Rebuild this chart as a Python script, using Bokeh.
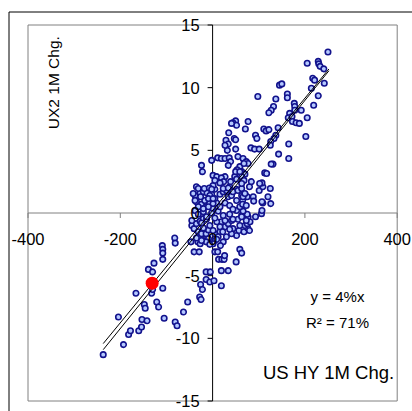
import numpy as np
from bokeh.plotting import figure
from bokeh.models import Range1d
from bokeh.core.properties import value
from bokeh.embed import file_html
from bokeh.resources import INLINE

# Monthly changes: US HY spread (bp) vs UX2 (vol points)
us_hy_1m_chg = [
    -237, -193, -182, -178, -160, -154, -204, -153, -142, -105, -81, -77, -63, -54, -28, -25,
    -148, -146, -121, -117, -166, -132, -130, -108, -139, -130, -127, -108, -109, -108, -108, -82, -81,
    -26, -22, -14, -5, -14, -6, 3, 19, 19, 34, 51, 13, 20, 25, 26, 5, 11, -40, -29, -47, -32, -27, -20,
    -13, 59, 63, 52, 57,
    68, 76, 70, 75, 81, 77, 93, 106, 107, 126, 109, 88, 89, 120, 125, 63, 72, 107, 63, 73, 80, 75, 66, 65,
    -45, -40, -35, -27, -20, -31, -24, -14, -9, -9, 5, 16, 5, 1, 19, 27, 34, 41, 44, 41, 59, 30, 23, 17,
    -14, -27, -45, -24, -13, -6, 9, 16, 27, 55, -20, 1, 12, 22, 37, -35, -24, -6, 9,
    -38, -31, -20, -13, -2, 5, 12, 23, 37, 44, 52, 63,
    -35, -24, -14, -7, 0, 9, 16, 27, 37, 44, 59, 65,
    -38, -27, -20, -12, -2, 5, 16, 23, 34, 41, 52, 70, 75,
    -35, -42, -38, -6, -17, -31, -20, -9, 1, 5, 1, 27, 30, 37, 59, 48, 41, 52, 66, 80, 73,
    1, 9, 5, 19, 24, 39, 52, 63, 70, -31, -18, -7, -2, -26, -9, 1, 16, 23, 34, 44, 55, 63, 101, 109,
    63, 68, 63, 70,
    250, 205, 229, 230, 233, 241, 217, 221, 242, 214, 229, 219, 205, 202, 145, 150, 162, 162, 137,
    132, 127, 122, 177, 178, 178, 192, 167, 164, 172, 173, 181, 188, 111, 116, 122, 142, 137, 133,
    126, 165, 98, 50, 44, 52, 41, 77, 71, 35, 93, 96, 47, 50, 29, 34, 83, 91, 101, 125, 143, 165,
    32, 50, 27, 11, 19, 27, 36, 39, 34, -2, 55, 66, 73, 77, -24, -22, 131, 127, 113, 107, 53, 50,
    59, 68, 117, 84, 102,
]
ux2_1m_chg = [
    -11.3, -10.5, -9.7, -9.4, -9.4, -9.1, -8.3, -8.5, -8.6, -8.4, -8.7, -9.0, -7.9, -7.1, -6.7, -6.9,
    -7.3, -7.6, -7.1, -7.5, -6.4, -6.4, -6.1, -6.0, -4.5, -4.7, -4.0, -3.7, -2.6, -2.9, -3.2, -2.0, -2.4,
    -5.7, -6.1, -4.7, -4.7, -5.3, -5.5, -5.4, -5.8, -4.6, -4.6, -3.9, -3.7, -3.7, -3.7, -3.4, -3.1, -3.1,
    -3.1, -3.1, -2.3, -2.3, -1.9, -1.8, -1.9, -2.9, -3.2, -1.8, -1.4,
    -1.5, -1.2, -1.0, -0.85, -0.7, -0.3, -0.3, -0.05, 0.2, 0.75, 0.8, 1.3, 0.95, 1.3, 1.95, 1.4, 1.3,
    0.9, -0.2, -0.6, -1.4, -0.1, 0.15, 1.0,
    -1.0, -1.25, -0.85, -0.65, -0.45, -1.5, -1.65, -1.65, -1.35, -2.05, -1.65, -1.5, -2.2, -2.45, -0.7,
    -1.1, -0.85, -0.6, -1.25, -1.65, -1.0, -1.9, -2.3, -2.6, -2.3, -2.45,
    -0.6, -0.8, -0.5, -1.0, -0.7, -1.1, -0.6, -0.5, -1.2, -1.4, -1.9, -1.5, -1.3, -2.0, -2.2, -2.5, -2.1,
    0.2, -0.1, 0.1, -0.3, 0.0, -0.4, 0.15, -0.2, -0.1, -0.5, 0.2, -0.3,
    0.9, 0.7, 0.5, 0.8, 0.4, 0.8, 0.5, 0.8, 0.6, 0.3, 0.5, 0.7,
    1.4, 1.6, 1.7, 1.6, 1.5, 1.9, 1.5, 1.7, 1.3, 1.75, 1.9, 1.5, 1.3,
    2.1, 1.55, 1.0, 1.4, 1.0, 0.5, 0.35, 0.5, 0.75, 1.15, 2.2, 2.9, 1.8, 2.1, 3.7, 2.9, 1.4, 1.0, 1.3,
    2.1, 0.6,
    3.0, 2.9, 2.6, 2.8, 2.5, 2.5, 2.7, 3.3, 3.1, 1.95, 1.95, 2.0, 1.9, 1.3, 1.15, 1.15, 2.4, 1.95, 2.0,
    1.7, 1.8, 1.95, 1.8, 2.1,
    2.9, 2.6, 2.35, 1.55,
    12.85, 11.95, 12.1, 11.9, 11.7, 11.5, 10.75, 10.6, 10.35, 9.95, 9.35, 8.6, 7.6, 6.1, 10.2, 10.3, 9.5,
    9.2, 9.1, 8.5, 8.2, 8.0, 8.75, 8.5, 8.2, 8.2, 7.95, 7.6, 7.7, 7.3, 7.2, 7.15, 6.7, 6.55, 6.65, 6.8,
    6.2, 5.95, 5.7, 5.5, 9.3, 7.35, 7.2, 7.0, 7.15, 7.3, 6.7, 6.4, 6.2, 5.95, 5.95, 5.85, 5.8, 5.5, 5.2,
    5.1, 5.1, 5.4, 4.7, 4.35, 5.0, 5.1, 5.4, 4.4, 4.35, 4.35, 4.4, 4.1, 3.8, 4.2, 4.5, 4.35, 4.1, 3.95,
    3.8, 3.3, 3.9, 3.9, 3.2, 2.4, 3.45, 3.3, 3.3, 3.95, 3.15, 2.5, 2.35,
]

# Most recent observation
latest_x = [-131]
latest_y = [-5.6]

# Trend lines
fit_slope, fit_intercept = 0.0455, -0.12
fit2_slope, fit2_intercept = 0.0448, 0.20
fit_x_span = [-237, 252]

x_ticks = [-400, -200, 0, 200, 400]
x_tick_labels = ["-400", "-200", "0", "200", "400"]
y_ticks = [15, 10, 5, 0, -5, -10, -15]
y_tick_labels = ["15", "10", "5", "0", "-5", "-10", "-15"]

eq_label = "y = 4%x"
r2_label = "R\u00b2 = 71%"
x_title = "US HY 1M Chg."
y_title = "UX2  1M Chg."

FONT = value("Liberation Sans")

# Canvas and plot-area box (pixels)
W, H = 412, 411
L, R, T, B = 27.5, 396.7, 24.5, 400.5
XMIN, XMAX, YMIN, YMAX = -400, 400, -15, 15
sx = (R - L) / (XMAX - XMIN)
sy = (B - T) / (YMAX - YMIN)
x0_canvas = XMIN - L / sx
x1_canvas = XMAX + (W - R) / sx
y0_canvas = YMIN - (H - B) / sy
y1_canvas = YMAX + T / sy


def px_x(px):
    return x0_canvas + px / sx


def px_y(py):
    return y1_canvas - py / sy


p = figure(width=W, height=H, x_range=Range1d(x0_canvas, x1_canvas),
           y_range=Range1d(y0_canvas, y1_canvas), x_axis_type=None, y_axis_type=None,
           toolbar_location=None, output_backend="svg", min_border=0,
           outline_line_color=None, background_fill_color="white",
           border_fill_color="white")
p.xgrid.visible = False
p.ygrid.visible = False

# outer chart border (left and top edges)
p.line([px_x(8.5), px_x(8.5), x1_canvas + 50], [y0_canvas - 5, px_y(11.5), px_y(11.5)],
       line_color="black", line_width=1)

# plot-area frame
p.quad(left=[XMIN], right=[XMAX], bottom=[YMIN], top=[YMAX], fill_color=None,
       line_color="#808080", line_width=1)

# crossing axes
p.segment(x0=[XMIN], y0=[0], x1=[XMAX], y1=[0], line_color="#808080", line_width=1)
p.segment(x0=[0], y0=[YMIN], x1=[0], y1=[YMAX], line_color="black", line_width=1)
tick_len = 5
p.segment(x0=x_ticks, y0=[0] * len(x_ticks), x1=x_ticks, y1=[-tick_len / sy] * len(x_ticks),
          line_color="#808080", line_width=1)
p.segment(x0=[0] * len(y_ticks), y0=y_ticks, x1=[-tick_len / sx] * len(y_ticks), y1=y_ticks,
          line_color="black", line_width=1)

# scatter
p.scatter(us_hy_1m_chg, ux2_1m_chg, size=5.5, fill_color="#b4c8ff", line_color="#12128c",
          line_width=1.6)

# trend lines
fx = np.array(fit_x_span, dtype=float)
p.line(fx, fit_slope * fx + fit_intercept, line_color="black", line_width=1)
p.line(fx, fit2_slope * fx + fit2_intercept, line_color="black", line_width=1)

# latest point
p.scatter(latest_x, latest_y, size=13, fill_color="#ff0000", line_color=None)

# tick labels
p.text(x=x_ticks, y=[0] * len(x_ticks), text=x_tick_labels, text_font=FONT,
       text_font_size="16.5px", text_align="center", text_baseline="middle",
       y_offset=26, text_color="black")
p.text(x=[0] * len(y_ticks), y=y_ticks, text=y_tick_labels, text_font=FONT,
       text_font_size="16.5px", text_align="right", text_baseline="middle",
       x_offset=-13, text_color="black")

# annotations
p.text(x=[px_x(337)], y=[px_y(296)], text=[eq_label], text_font=FONT, text_font_size="15px",
       text_align="center", text_baseline="middle", text_color="black")
p.text(x=[px_x(337)], y=[px_y(322)], text=[r2_label], text_font=FONT, text_font_size="15px",
       text_align="center", text_baseline="middle", text_color="black")
p.text(x=[px_x(394)], y=[px_y(371.5)], text=[x_title], text_font=FONT, text_font_size="18.5px",
       text_align="right", text_baseline="middle", text_color="black")
p.text(x=[px_x(53)], y=[px_y(80)], text=[y_title], text_font=FONT, text_font_size="15.5px",
       text_align="center", text_baseline="middle", angle=np.pi / 2, text_color="black")

open("out.html", "w").write(file_html(p, INLINE))
